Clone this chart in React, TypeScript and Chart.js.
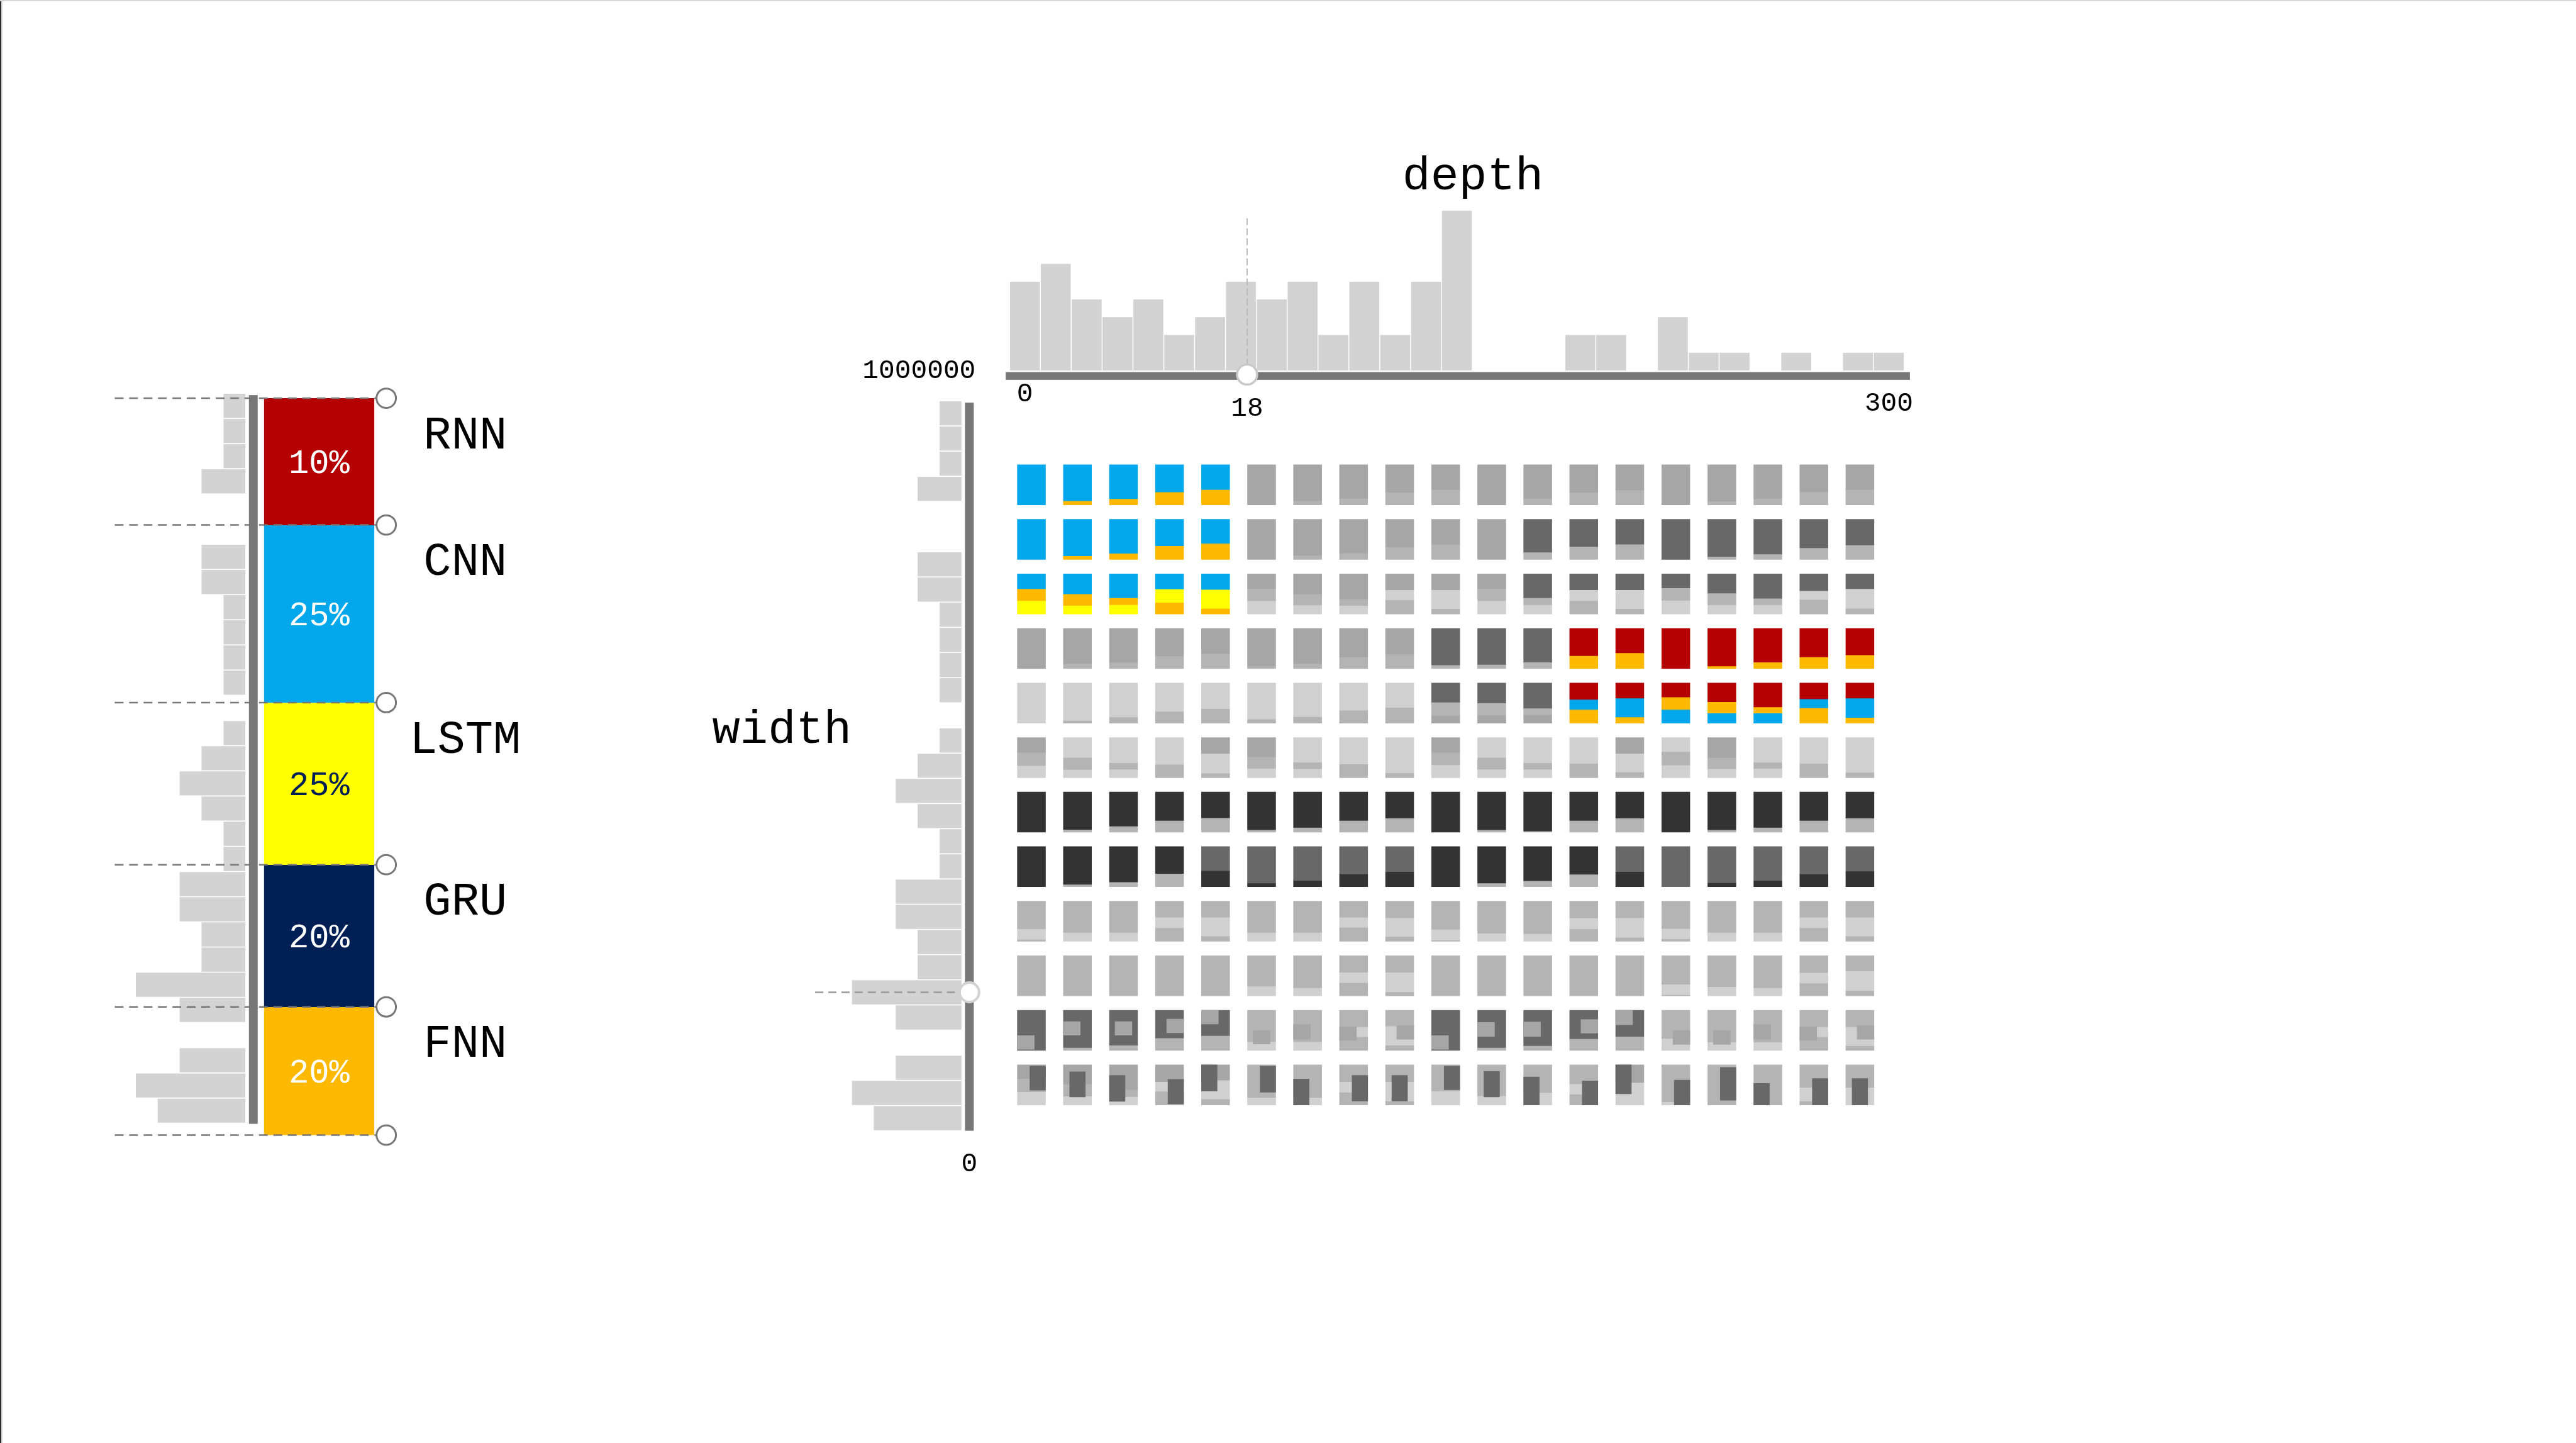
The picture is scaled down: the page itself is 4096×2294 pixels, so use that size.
import React, { useEffect, useRef } from 'react';
import { Chart, registerables } from 'chart.js';

Chart.register(...registerables);

const S = 0.997;
const FONT = '"Liberation Mono", "Courier New", monospace';

// ---------------- data: model types (left panel) ----------------
const typeNames = ['RNN', 'CNN', 'LSTM', 'GRU', 'FNN'];
const typePercentLabels = ['10%', '25%', '25%', '20%', '20%'];
const typeBand = [17.2, 24.1, 22.0, 19.3, 17.4];
const typeHist = [1, 1, 1, 2, 0, 0, 2, 2, 1, 1, 1, 1, 0, 1, 2, 3, 2, 1, 1, 3, 3, 2, 2, 5, 3, 0, 3, 5, 4];

// ---------------- data: depth ----------------
const depthTitle = 'depth';
const depthHist = [5, 6, 4, 3, 4, 2, 3, 5, 4, 5, 2, 5, 2, 5, 9, 0, 0, 0, 2, 2, 0, 3, 1, 1, 0, 1, 0, 1, 1];
const depthTickLabels = ['0', '18', '300'];
const depthTickBins = [0, 7.2, 28];
const depthHandleBin = 7.2;

// ---------------- data: width ----------------
const widthTitle = 'width';
const widthHist = [1, 1, 1, 2, 0, 0, 2, 2, 1, 1, 1, 1, 0, 1, 2, 3, 2, 1, 1, 3, 3, 2, 2, 5, 3, 0, 3, 5, 4];
const widthTickLabels = ['1000000', '0'];
const widthHandleBin = 23;

// ---------------- data: glyph grid (segment key + share, top to bottom) ----------------
const gridRow1 = ['B100', 'B90O10', 'B85O15', 'B68O32', 'B62O38', 'G100', 'G90S10', 'G84S16', 'G69S31', 'G62S38', 'G100', 'G84S16', 'G69S31', 'G63S37', 'G100', 'G91S9', 'G84S16', 'G68S32', 'G62S38'];
const gridRow2 = ['B100', 'B91O9', 'B85O15', 'B66O34', 'B60O40', 'G100', 'G90S10', 'G84S16', 'G69S31', 'G62S38', 'G100', 'M82S18', 'M68S32', 'M62S38', 'M100', 'M93S7', 'M87S13', 'M71S29', 'M64S36'];
const gridRow3 = ['B37O30Y33', 'B50O29Y21', 'B60O17Y23', 'B38Y33O29', 'B39Y47O14', 'G37S30L33', 'G50S28L22', 'G63S16L21', 'G40L25S35', 'G40L47S13', 'G37S30L33', 'M60S17L23', 'M40L27S33', 'M40L47S13', 'M35S31L34', 'M48S29L23', 'M61S16L23', 'M42L22S36', 'M37L49S14'];
const gridRow4 = ['G100', 'G88S12', 'G85S15', 'G69S31', 'G63S37', 'G94S6', 'G88S12', 'G71S29', 'G65S35', 'M91S9', 'M90S10', 'M84S16', 'R68O32', 'R61O39', 'R100', 'R94O6', 'R84O16', 'R71O29', 'R66O34'];
const gridRow5 = ['L100', 'L93S7', 'L85S15', 'L71S29', 'L64S36', 'L90S10', 'L84S16', 'L68S32', 'L61S39', 'M48S33G19', 'M50S30G20', 'M63S16G21', 'R41B25O34', 'R38B47O15', 'R35O31B34', 'R47O28B25', 'R60O15B25', 'R40B22O38', 'R38B48O14'];
const gridRow6 = ['G37S33L30', 'L50S30L20', 'L63S16L21', 'L67S33', 'G40L49S11', 'G48S29L23', 'L62S16L22', 'L66S34', 'L88S12', 'G37S31L32', 'L50S29L21', 'L63S16L21', 'L65S35', 'G40L46S14', 'L35S34L31', 'G50S28L22', 'L62S15L23', 'L65S35', 'L87S13'];
const gridRow7 = ['D100', 'D93S7', 'D85S15', 'D71S29', 'D64S36', 'D94S6', 'D88S12', 'D71S29', 'D65S35', 'D100', 'D94S6', 'D97S3', 'D71S29', 'D65S35', 'D100', 'D94S6', 'D88S12', 'D71S29', 'D65S35'];
const gridRow8 = ['D100', 'D94S6', 'D88S12', 'D67S33', 'M60D40', 'M91D9', 'M84D16', 'M68D32', 'M62D38', 'D100', 'D91S9', 'D85S15', 'D69S31', 'M62D38', 'M100', 'M90D10', 'M84D16', 'M68D32', 'M61D39'];
const gridRow9 = ['S69L26S5', 'S78L22', 'S78L22', 'S40L26S34', 'S40L47S13', 'S78L22', 'S78L22', 'S40L25S35', 'S41L47S12', 'S70L27S3', 'S80L20', 'S81L19', 'S42L27S31', 'S41L49S10', 'S68L26S6', 'S78L22', 'S78L22', 'S40L26S34', 'S40L47S13'];
const gridRow10 = ['S100', 'S100', 'S100', 'S100', 'S100', 'S76L24', 'S80L20', 'S41L26S33', 'S41L49S10', 'S100', 'S100', 'S100', 'S100', 'S100', 'S71L26S3', 'S77L23', 'S80L20', 'S42L26S32', 'S38L49S13'];
const gridRow11 = ['M100', 'M93S7', 'M87S13', 'M69S31', 'M63S37', 'S78L22', 'S78L22', 'S41L25S34', 'S39L48S13', 'M100', 'M93S7', 'M88S12', 'M71S29', 'M65S35', 'S70L30', 'S79L21', 'S79L21', 'S41L25S34', 'S41L47S12'];
const gridRow12 = ['G34S33L33', 'G48S30L22', 'G62S17L21', 'G42L24S34', 'G38L47S15', 'S81L19', 'S81L19', 'S42L26S32', 'S42L48S10', 'S65L35', 'S77L23', 'S69L31', 'S47L26S27', 'G44L56', 'S92L8', 'S100', 'S100', 'S56L34S10', 'S56L44'];
// inner blocks of rows 11 and 12: side (L/C/R) + vertical extent in % of glyph
const gridInner11 = ['L63-97', 'L28-62', 'C28-62', 'R22-56', 'L0-34', 'C50-84', 'L35-72', 'L41-75', 'R38-72', 'L63-97', 'L30-65', 'L29-65', 'R23-57', 'L0-36', 'R50-85', 'C50-85', 'L35-72', 'L41-75', 'R38-72'];
const gridInner12 = ['R3-63', 'C17-80', 'L26-91', 'R36-97', 'L0-65', 'R3-68', 'L35-100', 'R26-90', 'C26-90', 'R3-62', 'C16-80', 'L30-100', 'R40-100', 'L0-72', 'R38-100', 'R6-88', 'L46-100', 'R34-100', 'C34-100'];

const gridRows = [gridRow1, gridRow2, gridRow3, gridRow4, gridRow5, gridRow6, gridRow7, gridRow8, gridRow9, gridRow10, gridRow11, gridRow12];

// ---------------- styles ----------------
const typeColors = ['#b40000', '#03a8ec', '#ffff00', '#001f54', '#fdb900'];
const typeTextColors = ['#ffffff', '#ffffff', '#001f54', '#ffffff', '#ffffff'];
const glyphPalette: Record<string, string> = {
  B: '#03a8ec', O: '#fdb900', Y: '#ffff00', R: '#b40000',
  D: '#333333', M: '#686868', G: '#a6a6a6', S: '#b4b4b4', L: '#d0d0d0',
};
const HIST_GRAY = '#d3d3d3';
const AXIS_GRAY = '#777777';

type Rect = { x0: number; y0: number; x1: number; y1: number };
type Geo = { lx: (v: number) => number; ly: (v: number) => number };

function Panel({ box, area, build }: { box: Rect; area: Rect; build: (g: Geo) => any }) {
  const ref = useRef<HTMLCanvasElement>(null);
  const cl = Math.round(box.x0 * S);
  const ct = Math.round(box.y0 * S);
  const cw = Math.round(box.x1 * S) - cl;
  const ch = Math.round(box.y1 * S) - ct;
  useEffect(() => {
    const geo: Geo = { lx: (v) => v * S - cl, ly: (v) => v * S - ct };
    const cfg = build(geo);
    const opts = cfg.options || {};
    cfg.options = {
      ...opts,
      responsive: false,
      maintainAspectRatio: false,
      animation: false,
      devicePixelRatio: 1,
      events: [],
      layout: {
        padding: {
          left: area.x0 * S - cl,
          right: cw - (area.x1 * S - cl),
          top: area.y0 * S - ct,
          bottom: ch - (area.y1 * S - ct),
        },
      },
      plugins: { legend: { display: false }, tooltip: { enabled: false }, title: { display: false } },
    };
    const chart = new Chart(ref.current as HTMLCanvasElement, cfg);
    return () => chart.destroy();
  }, []);
  return (
    <canvas
      ref={ref}
      width={cw}
      height={ch}
      style={{ position: 'absolute', left: cl, top: ct, width: cw, height: ch }}
    />
  );
}

// ---------- left histogram ----------
const buildTypeHist = (g: Geo) => ({
  type: 'bar',
  data: {
    labels: typeHist.map((_, i) => String(i)),
    datasets: [{ data: typeHist, backgroundColor: HIST_GRAY, borderWidth: 0, barPercentage: 0.96, categoryPercentage: 1 }],
  },
  options: {
    indexAxis: 'y',
    scales: {
      x: { type: 'linear', min: 0, max: 5, reverse: true, display: false },
      y: { display: false },
    },
  },
  plugins: [{
    id: 'typeAxis',
    afterDatasetsDraw(chart: any) {
      const { ctx, chartArea: a } = chart;
      ctx.save();
      ctx.fillStyle = AXIS_GRAY;
      ctx.fillRect(a.right + 5.5 * S, a.top + 3 * S, 14 * S, a.bottom - a.top - 2 * S);
      ctx.restore();
    },
  }],
});

// ---------- left stacked type bar ----------
const buildTypeStack = (g: Geo) => ({
  type: 'bar',
  data: {
    labels: ['types'],
    datasets: typeBand.map((v, i) => ({
      label: typeNames[i], data: [v], backgroundColor: typeColors[i], borderWidth: 0,
      barPercentage: 1, categoryPercentage: 1, stack: 'm',
    })),
  },
  options: {
    scales: {
      x: { stacked: true, display: false },
      y: { stacked: true, display: false, reverse: true, min: 0, max: 100 },
    },
  },
  plugins: [{
    id: 'typeDecor',
    afterDatasetsDraw(chart: any) {
      const { ctx, chartArea: a, scales } = chart;
      const y = scales.y;
      const cum = [0];
      typeBand.forEach((v) => cum.push(cum[cum.length - 1] + v));
      const cx = a.right + 19 * S;
      ctx.save();
      ctx.strokeStyle = AXIS_GRAY;
      ctx.lineWidth = 2.5 * S;
      ctx.setLineDash([14 * S, 9 * S]);
      cum.forEach((v) => {
        const py = y.getPixelForValue(v);
        ctx.beginPath();
        ctx.moveTo(g.lx(183), py);
        ctx.lineTo(cx, py);
        ctx.stroke();
      });
      ctx.setLineDash([]);
      cum.forEach((v) => {
        const py = y.getPixelForValue(v);
        ctx.beginPath();
        ctx.arc(cx, py, 15.5 * S, 0, Math.PI * 2);
        ctx.fillStyle = '#ffffff';
        ctx.fill();
        ctx.lineWidth = 3 * S;
        ctx.strokeStyle = AXIS_GRAY;
        ctx.stroke();
      });
      ctx.textAlign = 'center';
      ctx.textBaseline = 'alphabetic';
      ctx.font = `${54 * S}px ${FONT}`;
      typeBand.forEach((v, i) => {
        const yc = y.getPixelForValue(cum[i] + v / 2);
        ctx.fillStyle = typeTextColors[i];
        ctx.fillText(typePercentLabels[i], (a.left + a.right) / 2, yc + 18 * S);
      });
      ctx.font = `${74 * S}px ${FONT}`;
      ctx.fillStyle = '#000000';
      typeNames.forEach((n, i) => {
        const yt = y.getPixelForValue(cum[i]);
        ctx.fillText(n, a.right + 145 * S, yt + 80 * S);
      });
      ctx.restore();
    },
  }],
});

// ---------- depth histogram ----------
const buildDepth = (g: Geo) => ({
  type: 'bar',
  data: {
    labels: depthHist.map((_, i) => String(i)),
    datasets: [{ data: depthHist, backgroundColor: HIST_GRAY, borderWidth: 0, barPercentage: 0.97, categoryPercentage: 1 }],
  },
  options: {
    scales: {
      x: { display: false },
      y: { type: 'linear', min: 0, max: 9, display: false },
    },
  },
  plugins: [{
    id: 'depthDecor',
    afterDatasetsDraw(chart: any) {
      const { ctx, chartArea: a, scales } = chart;
      const xs = scales.x;
      ctx.save();
      ctx.fillStyle = AXIS_GRAY;
      ctx.fillRect(a.left - 6 * S, a.bottom + 2.6 * S, a.right - a.left + 15 * S, 12.4 * S);
      const hx = xs.getPixelForValue(depthHandleBin);
      const hy = a.bottom + 6.5 * S;
      ctx.strokeStyle = '#bdbdbd';
      ctx.lineWidth = 2 * S;
      ctx.setLineDash([11 * S, 5 * S]);
      ctx.beginPath();
      ctx.moveTo(hx, g.ly(348));
      ctx.lineTo(hx, hy);
      ctx.stroke();
      ctx.setLineDash([]);
      ctx.beginPath();
      ctx.arc(hx, hy, 16 * S, 0, Math.PI * 2);
      ctx.fillStyle = '#ffffff';
      ctx.fill();
      ctx.lineWidth = 3.5 * S;
      ctx.strokeStyle = '#c8c8c8';
      ctx.stroke();
      ctx.fillStyle = '#000000';
      ctx.textAlign = 'center';
      ctx.textBaseline = 'alphabetic';
      ctx.font = `${75 * S}px ${FONT}`;
      ctx.fillText(depthTitle, g.lx(2349), g.ly(302));
      ctx.font = `${43 * S}px ${FONT}`;
      const baselines = [640, 663, 655];
      depthTickLabels.forEach((t, i) => {
        ctx.fillText(t, xs.getPixelForValue(depthTickBins[i]), g.ly(baselines[i]));
      });
      ctx.restore();
    },
  }],
});

// ---------- width histogram ----------
const buildWidth = (g: Geo) => ({
  type: 'bar',
  data: {
    labels: widthHist.map((_, i) => String(i)),
    datasets: [{ data: widthHist, backgroundColor: HIST_GRAY, borderWidth: 0, barPercentage: 0.96, categoryPercentage: 1 }],
  },
  options: {
    indexAxis: 'y',
    scales: {
      x: { type: 'linear', min: 0, max: 5, reverse: true, display: false },
      y: { display: false },
    },
  },
  plugins: [{
    id: 'widthDecor',
    afterDatasetsDraw(chart: any) {
      const { ctx, chartArea: a, scales } = chart;
      const ys = scales.y;
      ctx.save();
      ctx.fillStyle = AXIS_GRAY;
      ctx.fillRect(a.right + 5.5 * S, a.top + 3 * S, 14 * S, a.bottom - a.top - 3 * S);
      const hy = ys.getPixelForValue(widthHandleBin);
      const hx = a.right + 12.5 * S;
      ctx.strokeStyle = '#9a9a9a';
      ctx.lineWidth = 2.5 * S;
      ctx.setLineDash([13 * S, 8 * S]);
      ctx.beginPath();
      ctx.moveTo(g.lx(1300), hy);
      ctx.lineTo(hx, hy);
      ctx.stroke();
      ctx.setLineDash([]);
      ctx.beginPath();
      ctx.arc(hx, hy, 15.5 * S, 0, Math.PI * 2);
      ctx.fillStyle = '#ffffff';
      ctx.fill();
      ctx.lineWidth = 4 * S;
      ctx.strokeStyle = '#d3d3d3';
      ctx.stroke();
      ctx.fillStyle = '#000000';
      ctx.textBaseline = 'alphabetic';
      ctx.font = `${43 * S}px ${FONT}`;
      ctx.textAlign = 'right';
      ctx.fillText(widthTickLabels[0], g.lx(1556), g.ly(603));
      ctx.textAlign = 'center';
      ctx.fillText(widthTickLabels[1], hx, g.ly(1868));
      ctx.font = `${74 * S}px ${FONT}`;
      ctx.fillText(widthTitle, g.lx(1247), g.ly(1185));
      ctx.restore();
    },
  }],
});

// ---------- glyph grid ----------
const GLYPH_TOP = 0.132;
const GLYPH_H = 0.736;
const GLYPH_W_PX = 45;
const COL_PX = 73.4;

function parseCell(s: string): [string, number][] {
  const out: [string, number][] = [];
  const re = /([A-Z])(\d+)/g;
  let m;
  while ((m = re.exec(s)) !== null) out.push([m[1], Number(m[2])]);
  return out;
}

function buildGridDatasets() {
  const slots: { data: any[]; colors: string[] }[] = [];
  gridRows.forEach((row, r) => {
    row.forEach((cell, c) => {
      const segs = parseCell(cell);
      const total = segs.reduce((s, [, v]) => s + v, 0);
      let cum = 0;
      segs.forEach(([k, v], i) => {
        const y0 = r + GLYPH_TOP + (cum / total) * GLYPH_H;
        cum += v;
        const y1 = r + GLYPH_TOP + (cum / total) * GLYPH_H;
        if (!slots[i]) slots[i] = { data: [], colors: [] };
        slots[i].data.push({ x: c, y: [y0, y1] });
        slots[i].colors.push(glyphPalette[k]);
      });
    });
  });
  const inner = (list: string[], r: number, wPx: number, color: string) => {
    const shift = (GLYPH_W_PX - wPx) / 2 / COL_PX;
    const data = list.map((s, c) => {
      const m = s.match(/([LCR])(\d+)-(\d+)/) as RegExpMatchArray;
      const dx = m[1] === 'L' ? -shift : m[1] === 'R' ? shift : 0;
      return {
        x: c + dx,
        y: [r + GLYPH_TOP + (Number(m[2]) / 100) * GLYPH_H, r + GLYPH_TOP + (Number(m[3]) / 100) * GLYPH_H],
      };
    });
    return { data, backgroundColor: color, borderWidth: 0, grouped: false, barThickness: wPx * S };
  };
  return [
    inner(gridInner11, 10, 27, glyphPalette.G),
    inner(gridInner12, 11, 25, glyphPalette.M),
    ...slots.map((s) => ({
      data: s.data, backgroundColor: s.colors, borderWidth: 0, grouped: false, barThickness: GLYPH_W_PX * S,
    })),
  ];
}

const buildGrid = (g: Geo) => ({
  type: 'bar',
  data: { datasets: buildGridDatasets() },
  options: {
    scales: {
      x: { type: 'linear', min: -0.5, max: 18.5, display: false, offset: false },
      y: { type: 'linear', min: 0, max: 12, reverse: true, display: false },
    },
  },
});

export default function App() {
  return (
    <div style={{ position: 'absolute', left: 0, top: 0, width: 4096, height: 2294, background: '#ffffff', overflow: 'hidden' }}>
      <div style={{ position: 'absolute', left: 0, top: 0, width: 2, height: '100%', background: '#2c2c2c' }} />
      <div style={{ position: 'absolute', left: 2, top: 0, width: 2, height: '100%', background: '#d9d9d9' }} />
      <div style={{ position: 'absolute', left: 0, top: 0, width: '100%', height: 2, background: '#d6d6d6' }} />
      <Panel box={{ x0: 180, y0: 600, x1: 430, y1: 1820 }} area={{ x0: 216.5, y0: 627, x1: 391.5, y1: 1791 }} build={buildTypeHist} />
      <Panel box={{ x0: 170, y0: 600, x1: 830, y1: 1840 }} area={{ x0: 421, y0: 635, x1: 597, y1: 1810 }} build={buildTypeStack} />
      <Panel box={{ x0: 1340, y0: 230, x1: 3100, y1: 680 }} area={{ x0: 1610, y0: 335.7, x1: 3037, y1: 590.7 }} build={buildDepth} />
      <Panel box={{ x0: 1100, y0: 560, x1: 1580, y1: 1900 }} area={{ x0: 1358.5, y0: 639, x1: 1533.5, y1: 1803 }} build={buildWidth} />
      <Panel box={{ x0: 1590, y0: 710, x1: 3030, y1: 1800 }} area={{ x0: 1608.3, y0: 729.5, x1: 3003, y1: 1773.5 }} build={buildGrid} />
    </div>
  );
}
